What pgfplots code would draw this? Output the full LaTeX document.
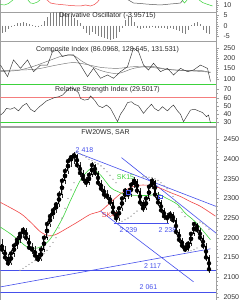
\documentclass[border=0pt]{standalone}
\usepackage{pgfplots}
\pgfplotsset{compat=1.18}
\usepackage{pgfplotstable}
\usepackage{fontspec}
\setmainfont{Liberation Sans}
\definecolor{tb}{RGB}{70,80,235}
\definecolor{tg}{RGB}{60,210,60}
\definecolor{tr}{RGB}{240,70,70}
\definecolor{fr}{RGB}{160,160,160}

\pgfplotstableread{
x o h l c
1.5 2185 2198 2160 2170
4.5 2170 2178 2140 2150
7.5 2150 2160 2127 2135
10.5 2135 2168 2130 2160
13.5 2160 2188 2152 2180
16.5 2180 2204 2172 2195
19.5 2195 2216 2186 2210
22.5 2210 2227 2200 2220
25.5 2220 2224 2192 2200
28.5 2200 2206 2168 2175
31.5 2175 2186 2160 2170
34.5 2170 2178 2140 2155
37.5 2155 2162 2138 2145
40.5 2145 2178 2140 2170
43.5 2170 2208 2165 2200
46.5 2200 2242 2195 2235
49.5 2235 2262 2228 2255
52.5 2255 2278 2248 2270
55.5 2270 2292 2262 2285
58.5 2285 2318 2278 2310
61.5 2310 2352 2302 2345
64.5 2345 2378 2336 2370
67.5 2370 2402 2362 2395
70.5 2395 2412 2380 2405
73.5 2405 2418 2388 2410
76.5 2410 2414 2378 2385
79.5 2385 2392 2356 2365
82.5 2365 2372 2340 2350
85.5 2350 2356 2330 2340
88.5 2340 2368 2334 2360
91.5 2360 2392 2354 2385
94.5 2385 2388 2358 2365
97.5 2365 2370 2332 2340
100.5 2340 2348 2316 2325
103.5 2325 2332 2300 2310
106.5 2310 2322 2296 2305
109.5 2305 2310 2280 2290
112.5 2290 2296 2256 2265
115.5 2265 2270 2239 2250
118.5 2250 2282 2244 2275
121.5 2275 2306 2268 2300
124.5 2300 2328 2292 2320
127.5 2320 2326 2300 2310
130.5 2310 2342 2304 2335
133.5 2335 2355 2328 2345
136.5 2345 2350 2312 2320
139.5 2320 2326 2282 2290
142.5 2290 2296 2265 2275
145.5 2275 2306 2270 2300
148.5 2300 2336 2294 2330
151.5 2330 2352 2324 2345
154.5 2345 2348 2302 2310
157.5 2310 2316 2282 2290
160.5 2290 2296 2262 2270
163.5 2270 2276 2246 2255
166.5 2255 2262 2238 2250
169.5 2250 2268 2244 2260
172.5 2260 2266 2238 2245
175.5 2245 2250 2208 2215
178.5 2215 2222 2188 2195
181.5 2195 2200 2172 2180
184.5 2180 2186 2165 2170
187.5 2170 2192 2166 2185
190.5 2185 2216 2180 2210
193.5 2210 2240 2205 2235
196.5 2235 2238 2212 2220
199.5 2220 2226 2192 2200
202.5 2200 2206 2172 2180
205.5 2180 2186 2142 2150
208.5 2150 2156 2110 2120
}\candles

\pgfplotstableread{
x y
19.5 2117
22.5 2122
25.5 2127
28.5 2132
31.5 2137
34.5 2142
37.5 2147
40.5 2152
43.5 2160
46.5 2168
49.5 2178
52.5 2188
55.5 2200
58.5 2225
61.5 2250
64.5 2275
67.5 2300
70.5 2322
73.5 2340
76.5 2418
79.5 2414
82.5 2410
85.5 2405
88.5 2400
91.5 2396
94.5 2392
97.5 2388
100.5 2383
103.5 2376
106.5 2368
109.5 2359
112.5 2349
115.5 2340
118.5 2239
121.5 2242
124.5 2246
127.5 2250
130.5 2255
133.5 2262
136.5 2268
142.5 2355
145.5 2355
148.5 2354
151.5 2353
154.5 2350
157.5 2346
160.5 2340
163.5 2333
166.5 2325
169.5 2316
172.5 2305
175.5 2292
178.5 2278
181.5 2265
184.5 2254
187.5 2165
190.5 2167
193.5 2170
196.5 2174
199.5 2240
202.5 2236
205.5 2230
208.5 2222
}\sar

\pgfplotstableread{
x y
1.5 -3.5
4.5 -3.0
7.5 -1.5
10.5 -0.5
13.5 0.5
16.5 1.2
19.5 1.5
22.5 1.8
25.5 1.5
28.5 0.8
31.5 0.3
34.5 -0.5
37.5 -0.8
40.5 0.5
43.5 2.5
46.5 4.5
49.5 6.0
52.5 6.8
55.5 6.8
58.5 6.5
61.5 6.2
64.5 6.0
67.5 5.5
70.5 4.8
73.5 4.0
76.5 3.0
79.5 1.5
82.5 -1.5
85.5 -3.5
88.5 -4.5
91.5 -3.0
94.5 -4.0
97.5 -5.0
100.5 -5.5
103.5 -6.0
106.5 -6.5
109.5 -7.0
112.5 -6.5
115.5 -6.0
118.5 -3.0
121.5 -1.0
124.5 3.0
127.5 5.0
130.5 4.5
133.5 2.0
136.5 -1.0
139.5 -1.5
142.5 -1.2
145.5 -1.0
148.5 -1.0
151.5 -0.8
154.5 -1.0
157.5 -1.3
160.5 -1.0
163.5 -1.0
166.5 -1.5
169.5 -1.0
172.5 -1.5
175.5 -2.0
178.5 -2.5
181.5 -3.5
184.5 -4.0
187.5 -2.0
190.5 0.5
193.5 1.5
196.5 2.0
199.5 1.0
202.5 -2.0
205.5 -3.5
208.5 -3.96
}\deriv

\pgfplotsset{
  panel/.style={
    scale only axis, width=215.5pt, xmin=0, xmax=215.5,
    axis line style={fr}, xtick=\empty,
    ytick pos=right, yticklabel pos=right,
    tick align=outside, tick style={fr},
    major tick length=3pt, minor tick length=1.5pt,
    yticklabel style={font=\fontsize{7}{8}\selectfont, text=black!80, xshift=1pt},
    /pgf/number format/assume math mode=true,
    /pgf/number format/1000 sep={},
    scaled y ticks=false,
    anchor=south west, clip=true,
  },
}
\tikzset{
  ttl/.style={font=\fontsize{7}{8}\selectfont, text=black!85, inner sep=0pt},
  lbl/.style={font=\fontsize{7}{8}\selectfont, inner sep=0pt},
}

\begin{document}
\begin{tikzpicture}
\useasboundingbox (0pt,0pt) rectangle (248pt,300pt);

% top partial panel
\begin{axis}[panel, at={(0.5pt,287.7pt)}, height=32.3pt, ymin=2.7, ymax=35,
  ytick={10}, minor ytick={4,6,8,12,14,16,18}]
\addplot[tg, line width=0.5pt] coordinates {(0,10.5)(4,10)(8,11.5)(13,15.5)};
\addplot[tg, line width=0.5pt] coordinates {(27,15.5)(30,12)(33,11.5)(37,13)(40,15.5)};
\addplot[tr, line width=0.5pt] coordinates {(46,15.5)(50,12)(55,11)(60,10.5)(65,10)(70,9.5)(75,9.2)(80,9)(85,10)(90,9)(94,10.5)(97,13)(99,15.5)};
\addplot[black!65, line width=0.5pt] coordinates {(127,15.5)(133,12)(140,11.5)(145,11)(152,10.5)(160,10)(165,10.5)(170,11)(176,11.5)(180,12)(183,15.5)};
\addplot[tg, line width=0.5pt] coordinates {(181,15.5)(184,12)(187,15.5)};
\addplot[tg, line width=0.5pt] coordinates {(198,15.5)(202,12.5)(206,11)(212,9)};
\end{axis}

% derivative oscillator
\begin{axis}[panel, at={(0.5pt,258.3pt)}, height=29.4pt, ymin=-7.84, ymax=6.57,
  ytick={-5,0,5}, minor tick num=4]
\addplot[ycomb, black!50, line width=0.9pt] table[x=x,y=y] {\deriv};
\node[ttl] at (axis cs:107,4.9) {Derivative Oscillator (-3.95715)};
\end{axis}

% composite index
\begin{axis}[panel, at={(0.5pt,216pt)}, height=42.3pt, ymin=74.3, ymax=279.1,
  ytick={100,150,200,250}, minor tick num=4]
\addplot[black!55, line width=0.45pt, smooth] coordinates {(0,135)(17,140)(33,160)(50,190)(62,210)(73,212)(83,180)(100,140)(117,125)(133,150)(150,160)(167,145)(183,140)(200,140)(210,128.6)};
\addplot[black!55, line width=0.45pt, smooth] coordinates {(0,140)(33,145)(55,165)(72,178)(85,170)(100,155)(117,150)(133,158)(150,155)(167,145)(183,140)(200,135)(210,131.5)};
\addplot[black!80, line width=0.45pt] coordinates {(0,166)(7,110)(13,191)(20,150)(27,191)(33,134)(40,166)(47,166)(52,231)(57,239)(62,207)(67,215)(73,215)(80,166)(87,110)(93,150)(100,102)(107,118)(113,102)(120,134)(127,158)(133,248)(138,231)(143,166)(148,142)(153,175)(160,134)(167,150)(173,118)(180,150)(187,134)(193,142)(200,166)(207,150)(210,86)};
\node[ttl] at (axis cs:107,240.8) {Composite Index (86.0968, 128.645, 131.531)};
\end{axis}

% RSI
\begin{axis}[panel, at={(0.5pt,174pt)}, height=42pt, ymin=25.8, ymax=76.4,
  ytick={30,40,50,60,70}, minor tick num=1]
\addplot[tr!70, line width=0.6pt] coordinates {(0,60)(215.5,60)};
\addplot[tg, line width=0.6pt] coordinates {(0,30.6)(215.5,30.6)};
\addplot[tg, line width=0.8pt] coordinates {(0,76)(215.5,76)};
\addplot[black!80, line width=0.45pt] coordinates {(0,39)(3,42)(6,47)(10,46)(14,48)(18,44)(22,50)(26,53)(30,46)(34,43)(38,48)(42,52)(46,56)(50,58)(54,60)(58,61)(62,63)(66,68)(70,72)(74,70)(78,66)(80,59)(84,57)(88,58)(90,62)(94,57)(98,50)(102,48)(106,51)(110,47)(114,38)(117,31)(120,40)(124,47)(127,54)(131,55)(134,52)(138,50)(143,41)(147,47)(151,52)(154,47)(158,44)(162,49)(167,44)(170,48)(173,51)(177,44)(180,40)(183,31)(186,37)(190,45)(194,46)(198,44)(202,42)(206,37)(208,39)(210,29.5)};
\node[ttl] at (axis cs:107,69.4) {Relative Strength Index (29.5017)};
\end{axis}

% main price panel
\begin{axis}[panel, at={(0.5pt,-10pt)}, height=183pt, ymin=2016.2, ymax=2482,
  ytick={2050,2100,...,2450}, minor tick num=4]
% trend lines
\addplot[tb, line width=0.6pt] coordinates {(0,2117)(215.5,2117)};
\addplot[tb, line width=0.6pt] coordinates {(0,2060)(215.5,2060)};
\addplot[tb, line width=0.6pt] coordinates {(0,2075)(210,2172)};
\addplot[tb, line width=0.6pt] coordinates {(113,2238)(168,2238)};
\addplot[tb, line width=0.6pt] coordinates {(75,2418)(215.5,2280)};
\addplot[tb, line width=0.6pt] coordinates {(121,2404)(215.5,2212)};
\addplot[tb, line width=0.6pt] coordinates {(100,2268)(193,2088)};
% moving averages
\addplot[tr, line width=0.6pt, smooth] coordinates {(0,2290)(20,2262)(30,2240)(40,2215)(48,2205)(55,2208)(65,2222)(77,2240)(90,2260)(100,2268)(110,2290)(120,2312)(130,2328)(140,2334)(150,2333)(160,2326)(170,2315)(180,2305)(190,2292)(200,2280)(215,2255)};
\addplot[tg, line width=0.6pt, smooth] coordinates {(0,2227)(10,2210)(20,2190)(27,2176)(37,2174)(45,2185)(50,2198)(56,2222)(63,2255)(70,2295)(80,2347)(88,2372)(92,2375)(100,2360)(110,2328)(117,2318)(125,2310)(135,2308)(150,2308)(157,2312)(165,2302)(177,2285)(185,2262)(195,2240)(210,2195)};
% SAR
\addplot[only marks, mark=*, mark size=0.4pt, black!40] table[x=x,y=y] {\sar};
% candles: wicks
\addplot[only marks, mark=none, error bars/.cd, y dir=both, y explicit, error mark=none,
  error bar style={line width=0.35pt, black!85}]
  table[x=x, y=c, y error plus expr=\thisrow{h}-\thisrow{c}, y error minus expr=\thisrow{c}-\thisrow{l}] {\candles};
% candles: bodies
\addplot[only marks, mark=none, error bars/.cd, y dir=both, y explicit, error mark=none,
  error bar style={line width=1.3pt, black}]
  table[x=x, y expr=(\thisrow{o}+\thisrow{c})/2, y error expr={max(abs(\thisrow{o}-\thisrow{c})/2,1.2)}] {\candles};
\addplot[only marks, mark=none, restrict expr to domain={\thisrow{c}-\thisrow{o}}{0.5:1000},
  error bars/.cd, y dir=both, y explicit, error mark=none,
  error bar style={line width=0.7pt, black!25}]
  table[x=x, y expr=(\thisrow{o}+\thisrow{c})/2, y error expr={max(abs(\thisrow{o}-\thisrow{c})/2-1.2,0.3)}] {\candles};
% markers
\addplot[only marks, mark=square, mark size=1.8pt, tb, line width=0.6pt] coordinates {(128,2316)(160,2304)};
% labels
\node[ttl] at (axis cs:105,2468) {FW20WS, SAR};
\node[lbl, text=tb] at (axis cs:84,2424) {2 418};
\node[lbl, text=tg] at (axis cs:125,2354) {SK15};
\node[lbl, text=tr] at (axis cs:110,2257) {SK45};
\node[lbl, text=tb] at (axis cs:128,2220) {2 239};
\node[lbl, text=tb] at (axis cs:167,2220) {2 238};
\node[lbl, text=tb] at (axis cs:152,2127) {2 117};
\node[lbl, text=tb] at (axis cs:148,2075) {2 061};
\end{axis}
\end{tikzpicture}
\end{document}
